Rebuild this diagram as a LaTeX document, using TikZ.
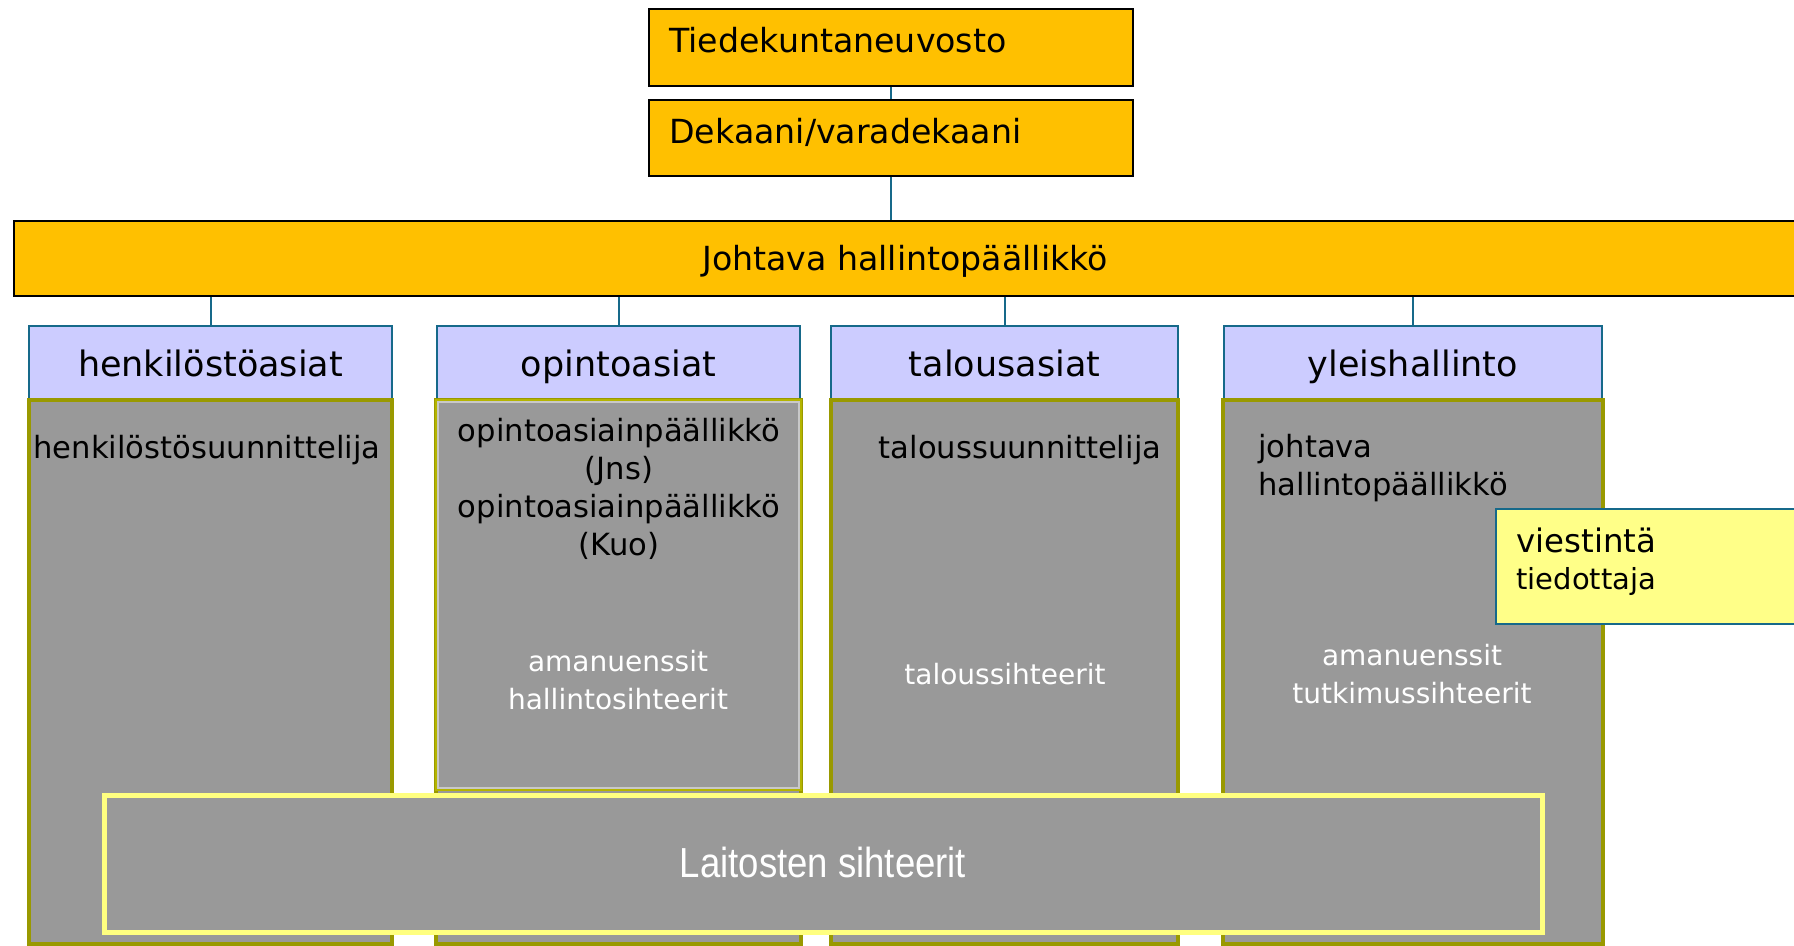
\documentclass[tikz,border=0pt]{standalone}
\usepackage{fontspec}
\setmainfont{DejaVu Sans}
\newfontfamily\narrowfont{Liberation Sans}
\definecolor{orangeC}{HTML}{FFC000}
\definecolor{lilac}{HTML}{CCCCFF}
\definecolor{grayC}{HTML}{999999}
\definecolor{oliveC}{HTML}{999900}
\definecolor{oliveL}{HTML}{B4B400}
\definecolor{yellowC}{HTML}{FFFF88}
\definecolor{yellowB}{HTML}{FFFF80}
\definecolor{tealC}{HTML}{16698A}
\definecolor{lightline}{HTML}{C8C8C8}
\begin{document}
\begin{tikzpicture}[x=0.5pt,y=-0.5pt,
  orangebox/.style={draw=black, line width=1pt, fill=orangeC, inner sep=0pt},
  hdr/.style={draw=tealC, line width=0.8pt, fill=lilac, inner sep=0pt, minimum height=37pt, text height=13.3pt, text depth=0pt, font=\fontsize{17.5}{21}\selectfont},
  graybox/.style={draw=oliveC, line width=2pt, fill=grayC, inner sep=0pt, minimum height=272pt},
  conn/.style={draw=tealC, line width=1pt},
  topfont/.style={font=\fontsize{16.6}{20}\selectfont, inner sep=0pt},
  blk/.style={font=\fontsize{15.3}{19}\selectfont, align=center, inner sep=0pt},
  wht/.style={text=white, font=\fontsize{14}{19}\selectfont, align=center, inner sep=0pt}]
\clip (0,0) rectangle (1794,946);
\fill[white] (0,0) rectangle (1794,946);

% top boxes
\node[orangebox, minimum width=242pt, minimum height=38.5pt] (tiede) at (891,47.5) {};
\node[orangebox, minimum width=242pt, minimum height=38pt] (dekaani) at (891,138) {};
\node[orangebox, minimum width=893pt, minimum height=37.5pt] (johtava) at (907,258.5) {};

\draw[conn] (tiede.south) -- (dekaani.north);
\draw[conn] (dekaani.south) -- (dekaani.south |- johtava.north);

\node[topfont, anchor=west] (tiedeT) at (669,40) {Tiedekuntaneuvosto};
\node[topfont, anchor=west] (dekaaniT) at (669,132) {Dekaani/varadekaani};
\node[topfont] (johtavaT) at (905,261) {Johtava hallintopäällikkö};

% headers
\node[hdr, minimum width=181.5pt] (henk) at (210.5,363) {henkilöstöasiat};
\node[hdr, minimum width=181.5pt] (opinto) at (618.5,363) {opintoasiat};
\node[hdr, minimum width=173.5pt] (talous) at (1004.5,363) {talousasiat};
\node[hdr, minimum width=189pt] (yleis) at (1413,363) {yleishallinto};

\foreach \h in {henk,opinto,talous,yleis}
  \draw[conn] (johtava.south -| \h.north) -- (\h.north);

% gray boxes
\node[graybox, minimum width=181.5pt] (henkG) at (210.5,672) {};
\node[graybox, minimum width=182.5pt] (opintoG) at (618.5,672) {};
\node[graybox, minimum width=173.5pt] (talousG) at (1004.5,672) {};
\node[graybox, minimum width=190pt] (yleisG) at (1413,672) {};

\node[draw=oliveL, line width=0.8pt, fill=grayC, inner sep=0pt, minimum width=182.5pt, minimum height=195pt] (opintoU) at (618.5,595) {};
\draw[lightline, line width=0.8pt] ([shift={(3,3)}]opintoU.north west) rectangle ([shift={(-3,-3)}]opintoU.south east);

% texts in gray boxes
\node[blk] (t1) at (207,450) {henkilöstösuunnittelija};
\node[blk] (t2) at (619,488.5) {opintoasiainpäällikkö\\(Jns)\\opintoasiainpäällikkö\\(Kuo)};
\node[wht] (t3) at (618,680) {amanuenssit\\hallintosihteerit};
\node[blk] (t4) at (1020,450) {taloussuunnittelija};
\node[wht] (t5) at (1005,674) {taloussihteerit};
\node[blk, align=left, anchor=west] (t6) at (1258,468.5) {johtava\\hallintopäällikkö};
\node[wht] (t7) at (1412,674.5) {amanuenssit\\tutkimussihteerit};

% viestinta
\node[draw=tealC, line width=0.8pt, fill=yellowC, inner sep=0pt, minimum width=152pt, minimum height=57.5pt] (viest) at (1648,566.5) {};
\node[font=\fontsize{16.2}{19}\selectfont, inner sep=0pt, anchor=west] (viestT) at (1516,540) {viestintä};
\node[font=\fontsize{14.5}{18}\selectfont, inner sep=0pt, anchor=west] (tiedT) at (1516,581) {tiedottaja};

% Laitosten
\node[draw=yellowB, line width=2.5pt, fill=grayC, inner sep=0pt, minimum width=719pt, minimum height=68.5pt] (laitos) at (823,863.5) {};
\node[text=white, inner sep=0pt, font=\narrowfont\fontsize{21}{24}\selectfont] (laitosT) at (823,862) {\scalebox{0.87}[1]{Laitosten sihteerit}};
\end{tikzpicture}
\end{document}
